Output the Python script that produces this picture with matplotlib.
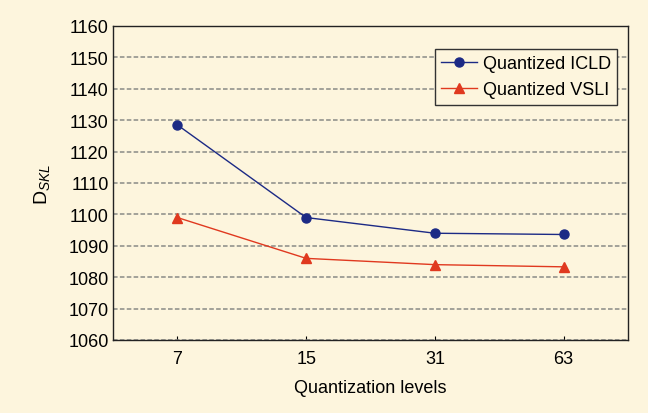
import numpy as np
import matplotlib.pyplot as plt

plt.rcParams['font.family'] = ['Liberation Sans', 'DejaVu Sans']
plt.rcParams['mathtext.fontset'] = 'custom'
plt.rcParams['mathtext.rm'] = 'Liberation Sans'
plt.rcParams['mathtext.it'] = 'Liberation Sans:italic'

levels = ['7', '15', '31', '63']
icld = [1128.5, 1099.0, 1094.0, 1093.6]
vsli = [1099.0, 1086.0, 1084.0, 1083.3]
yticks = list(range(1060, 1161, 10))

bg = '#fdf5dd'
x = np.arange(1, len(levels) + 1)

fig = plt.figure(figsize=(6.48, 4.14), dpi=100, facecolor=bg)
ax = fig.add_axes([113/648, 1 - 341/414, (628-113)/648, (341-27)/414])
ax.set_facecolor(bg)

ax.plot(x, icld, color='#1c2a85', marker='o', markersize=6.5, linewidth=1,
        label='Quantized ICLD')
ax.plot(x, vsli, color='#e0391f', marker='^', markersize=7, linewidth=1,
        label='Quantized VSLI')

ax.set_xlim(0.5, 4.5)
ax.set_ylim(1060, 1160)
ax.set_xticks(x)
ax.set_xticklabels(levels)
ax.set_yticks(yticks)
ax.tick_params(direction='in', length=3, labelsize=13, colors='black')
ax.tick_params(axis='x', pad=7)
ax.tick_params(axis='y', length=0, pad=3)
ax.yaxis.grid(True, linestyle=(0, (3, 1.5)), color='#8a8a86', linewidth=1.1)
for s in ax.spines.values():
    s.set_color('#222222')
    s.set_linewidth(1)

ax.set_xlabel('Quantization levels', fontsize=13, labelpad=9)
ax.set_ylabel('D$_{SKL}$', fontsize=14, labelpad=12)

leg = ax.legend(loc='upper right', bbox_to_anchor=(0.979, 0.927), fontsize=13,
                fancybox=False, framealpha=1, facecolor=bg, edgecolor='#333333',
                handlelength=2.0, borderpad=0.35, labelspacing=0.5, handletextpad=0.3,
                borderaxespad=0)
leg.get_frame().set_linewidth(1)

fig.savefig('out.png', dpi=100, facecolor=bg)
